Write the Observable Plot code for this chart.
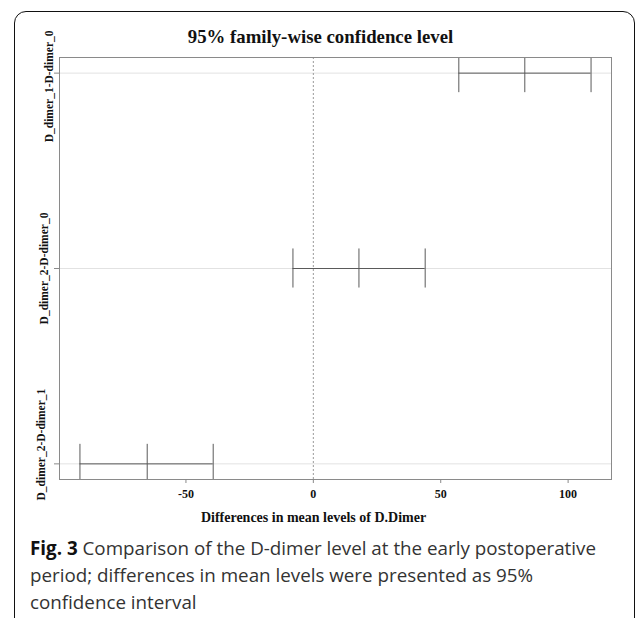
<!DOCTYPE html>
<html><head><meta charset="utf-8">
<script src="https://cdn.jsdelivr.net/npm/d3@7"></script>
<script src="https://cdn.jsdelivr.net/npm/@observablehq/plot@0.6"></script>
<style>
body{margin:0;background:#fff;}
#wrap{position:relative;width:635px;height:618px;overflow:hidden;background:#fff;}
#border{position:absolute;left:14px;top:11px;width:621px;height:700px;border:1.6px solid #111;border-radius:12px;box-sizing:border-box;}
#chart{position:absolute;left:0;top:0;}
#caption{position:absolute;left:30px;top:535px;width:600px;font-family:"Open Sans",sans-serif;font-size:18.8px;line-height:27px;color:#333;}
#caption div{white-space:nowrap;height:27px;}
#caption b{color:#111;font-weight:700;}
</style>
</head><body>
<div id="wrap">
<div id="border"></div>
<div id="chart"></div>
<div id="caption">
<div><b>Fig. 3</b><span> Comparison of the D-dimer level at the early postoperative</span></div>
<div><span>period; differences in mean levels were presented as 95%</span></div>
<div><span>confidence interval</span></div>
</div>
</div>
<script>
const comparisons = ["D_dimer_1-D-dimer_0", "D_dimer_2-D-dimer_0", "D_dimer_2-D-dimer_1"];
const diff = [83.0, 17.9, -65.2];
const lwr = [57.1, -8.0, -91.6];
const upr = [109.0, 43.9, -39.3];
const xTicks = [-50, 0, 50, 100];
const title = "95% family-wise confidence level";
const xLabel = "Differences in mean levels of D.Dimer";

const n = comparisons.length;
const rows = comparisons.map((c, i) => ({comp: c, pos: n - i, diff: diff[i], lwr: lwr[i], upr: upr[i]}));
const ends = rows.flatMap(r => [r.lwr, r.diff, r.upr].map(v => ({x: v, pos: r.pos})));

const xmin = d3.min(lwr), xmax = d3.max(upr);
const xext = (xmax - xmin) * 0.04;
const yext = (n - 1) * 0.04;
const serif = "'Liberation Serif', 'Times New Roman', serif";

const chart = Plot.plot({
  width: 635,
  height: 525,
  marginLeft: 59,
  marginRight: 24,
  marginTop: 57,
  marginBottom: 46,
  style: {fontFamily: serif, background: "transparent", overflow: "visible"},
  x: {domain: [xmin - xext, xmax + xext]},
  y: {domain: [1 - yext, n + yext]},
  marks: [
    Plot.ruleY(rows, {y: "pos", stroke: "#e2e2e2", strokeWidth: 1}),
    Plot.ruleX([0], {stroke: "#9a9a9a", strokeDasharray: "2,2"}),
    Plot.ruleY(rows, {y: "pos", x1: "lwr", x2: "upr", stroke: "#5a5a5a", strokeWidth: 1}),
    Plot.ruleX(ends, {x: "x", y1: d => d.pos - 0.1, y2: d => d.pos + 0.1, stroke: "#5a5a5a", strokeWidth: 1, clip: true}),
    Plot.frame({stroke: "#8a8a8a"}),
    Plot.axisX({ticks: xTicks, tickSize: 4, tickPadding: 6, tickFormat: d => String(d), label: null, stroke: "#8a8a8a", fontSize: 12, fontWeight: "bold", fill: "#111"}),
    Plot.axisY({ticks: rows.map(r => r.pos), tickSize: 5, tickFormat: () => "", label: null, stroke: "#8a8a8a"}),
    Plot.text([comparisons[0]], {text: d => d, frameAnchor: "top-left", rotate: -90, textAnchor: "end", dx: -15, dy: -27, fontSize: 11.5, fontWeight: "bold", fill: "#111"}),
    Plot.text(rows.filter((r, i) => i === 1), {y: "pos", text: "comp", frameAnchor: "left", rotate: -90, textAnchor: "middle", dx: -15, fontSize: 11.5, fontWeight: "bold", fill: "#111"}),
    Plot.text([comparisons[n - 1]], {text: d => d, frameAnchor: "bottom-left", rotate: -90, textAnchor: "start", dx: -15, dy: 21, fontSize: 11.5, fontWeight: "bold", fill: "#111"}),
    Plot.text([title], {text: d => d, frameAnchor: "top", lineAnchor: "middle", dx: -15, dy: -21, fontSize: 18.8, fontWeight: "bold", fill: "#111"}),
    Plot.text([xLabel], {text: d => d, frameAnchor: "bottom", lineAnchor: "middle", dx: -22, dy: 38, fontSize: 14, fontWeight: "bold", fill: "#111"})
  ]
});
document.getElementById("chart").appendChild(chart);
</script>
</body></html>
